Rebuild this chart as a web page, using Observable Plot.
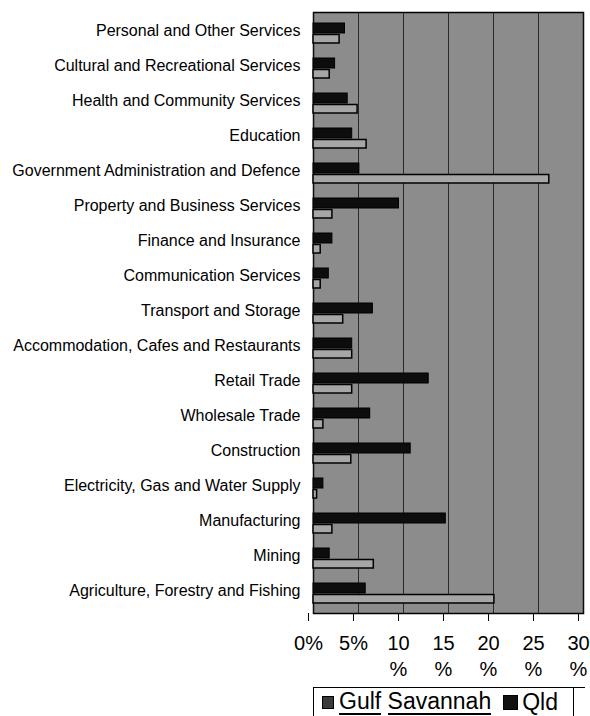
<!DOCTYPE html>
<html>
<head>
<meta charset="utf-8">
<script src="https://cdn.jsdelivr.net/npm/d3@7"></script>
<script src="https://cdn.jsdelivr.net/npm/@observablehq/plot@0.6"></script>
<style>
  body { margin: 0; background: #fff; font-family: "Liberation Sans", Arial, sans-serif; }
  #chart { width: 590px; height: 687px; }
  .legend {
    margin-left: 313px; width: 261px; height: 29px; box-sizing: border-box;
    border-left: 1.5px solid #000; border-right: 1.5px solid #000; border-top: 1.5px solid #000;
    position: relative; font-size: 23px; display: flex; align-items: center; padding-left: 8px;
    line-height: 24px;
  }
  .legend .sw { display: inline-block; border: 1px solid #000; box-sizing: border-box; }
  .legend .u { border-bottom: 2px solid #000; }
  .legend .ext { position: absolute; top: -1.5px; left: 259px; width: 12px; height: 1.5px; background: #000; }
</style>
</head>
<body>
<div id="chart"></div>
<script>
const categories = [
  "Personal and Other Services",
  "Cultural and Recreational Services",
  "Health and Community Services",
  "Education",
  "Government Administration and Defence",
  "Property and Business Services",
  "Finance and Insurance",
  "Communication Services",
  "Transport and Storage",
  "Accommodation, Cafes and Restaurants",
  "Retail Trade",
  "Wholesale Trade",
  "Construction",
  "Electricity, Gas and Water Supply",
  "Manufacturing",
  "Mining",
  "Agriculture, Forestry and Fishing"
];
const gulfSavannah = [2.9, 1.8, 4.9, 5.9, 26.2, 2.1, 0.8, 0.8, 3.3, 4.3, 4.3, 1.1, 4.2, 0.4, 2.1, 6.7, 20.1];
const qld =          [3.5, 2.4, 3.8, 4.3, 5.1, 9.5, 2.1, 1.7, 6.6, 4.3, 12.8, 6.3, 10.8, 1.1, 14.7, 1.8, 5.8];
const xTicks = [0, 5, 10, 15, 20, 25, 30];

const qldData = categories.map((c, i) => ({category: c, value: qld[i]}));
const gulfData = categories.map((c, i) => ({category: c, value: gulfSavannah[i]}));

const chart = Plot.plot({
  width: 590,
  height: 687,
  marginLeft: 313,
  marginRight: 7,
  marginTop: 12,
  marginBottom: 74,
  style: {fontFamily: "'Liberation Sans', Arial, sans-serif", background: "#fff", color: "#000"},
  x: {domain: [0, 30]},
  y: {domain: categories, padding: 0},
  marks: [
    Plot.frame({fill: "#8c8c8c", stroke: "#000", strokeWidth: 1.5}),
    Plot.gridX(xTicks, {stroke: "#111", strokeOpacity: 0.8, strokeWidth: 1}),
    Plot.barX(qldData, {x: "value", y: "category", fill: "#0d0d0d", stroke: "#000", insetTop: 8, insetBottom: 17}),
    Plot.barX(gulfData, {x: "value", y: "category", fill: "#a6a6a6", stroke: "#000", strokeWidth: 1.5, insetTop: 19.5, insetBottom: 7}),
    Plot.axisY({tickSize: 0, tickPadding: 13, fontSize: 16, dy: -2, label: null}),
    Plot.axisX({ticks: xTicks, tickSize: 8, tickPadding: 10, fontSize: 20, dx: -5, label: null, lineHeight: 1.3,
      tickFormat: d => d < 10 ? d + "%" : d + "\n%"})
  ]
});
document.getElementById("chart").append(chart);

const legend = document.createElement("div");
legend.className = "legend";
legend.innerHTML = `<span class="ext"></span><span class="sw" style="width:12px;height:13px;background:#3a3a3a;margin-right:5px"></span><span class="u">Gulf</span>&nbsp;<span class="u">Savannah</span><span class="sw" style="width:15px;height:15px;background:#111;margin-left:12px;margin-right:4px"></span><span>Qld</span>`;
document.body.append(legend);
</script>
</body>
</html>
